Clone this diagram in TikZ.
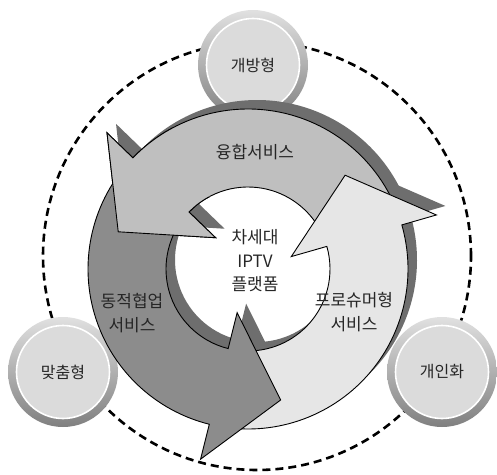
\documentclass[tikz,border=0pt]{standalone}
\usepackage{fontspec}
\usepackage{tikz}
\newfontfamily\kr{Noto Sans CJK KR}
\definecolor{ringshadow}{HTML}{6E6E6E}
\definecolor{fusegray}{HTML}{BFBFBF}
\definecolor{prosgray}{HTML}{E6E6E6}
\definecolor{dyngray}{HTML}{8C8C8C}
\tikzset{
  ringbox/.style={circle,minimum size=110pt,inner sep=0pt,top color=black!12,bottom color=black!50},
  tagbox/.style={circle,minimum size=93pt,inner sep=0pt,fill=black!14,draw=white,line width=1.6pt,
                 text=black!85,font=\kr\fontsize{16}{19}\selectfont},
  arrowbody/.style={draw=black,line width=0.9pt,line join=miter},
  arrowtext/.style={text=black!85,align=center,font=\kr\fontsize{17}{23.5}\selectfont},
}
% tail angle, head base angle
\newcommand{\cyclearrow}[2]{(#1:160) arc[start angle=#1,end angle=#2,radius=160]
  -- (#2:196) -- ({#2+28}:135) -- (#2:45) -- (#2:82)
  arc[start angle=#2,end angle=#1,radius=82] -- cycle}

\begin{document}
\begin{tikzpicture}[x=1pt,y=1pt]
        \useasboundingbox (0,0) rectangle (497,474);
        \draw[line width=2.6pt,dash pattern=on 8pt off 5pt] (257,218) circle (214);

        \node (Ropen)     at (253,409) [ringbox] {};
        \node (Topen)     at (Ropen)   [tagbox] {개방형};
        \node (Rcustom)   at (63,102)  [ringbox] {};
        \node (Tcustom)   at (Rcustom) [tagbox] {맞춤형};
        \node (Rpersonal) at (442,102) [ringbox] {};
        \node (Tpersonal) at (Rpersonal) [tagbox] {개인화};

        \begin{scope}[shift={(248,205)}]
            \fill[ringshadow,shift={(9,9)}] \cyclearrow{24}{136};
            \fill[ringshadow,shift={(9,9)}] \cyclearrow{264}{376};
            \fill[ringshadow,shift={(9,9)}] \cyclearrow{144}{256};

            \draw[arrowbody,fill=fusegray] \cyclearrow{24}{136};
            \draw[arrowbody,fill=prosgray] \cyclearrow{264}{376};
            \draw[arrowbody,fill=dyngray]  \cyclearrow{144}{256};

            \begin{scope}
                \clip (0,0) -- (118:260) arc[start angle=118,end angle=200,radius=260] -- cycle;
                \draw[arrowbody,fill=fusegray] \cyclearrow{24}{136};
            \end{scope}
        \end{scope}

        \node (Lfusion)   at (255,322) [arrowtext] {융합서비스};
        \node (Lplatform) at (255,213) [arrowtext] {차세대\\IPTV\\플랫폼};
        \node (Ldynamic)  at (132,161) [arrowtext] {동적협업\\서비스};
        \node (Lprosumer) at (354,162) [arrowtext] {프로슈머형\\서비스};
\end{tikzpicture}
\end{document}
